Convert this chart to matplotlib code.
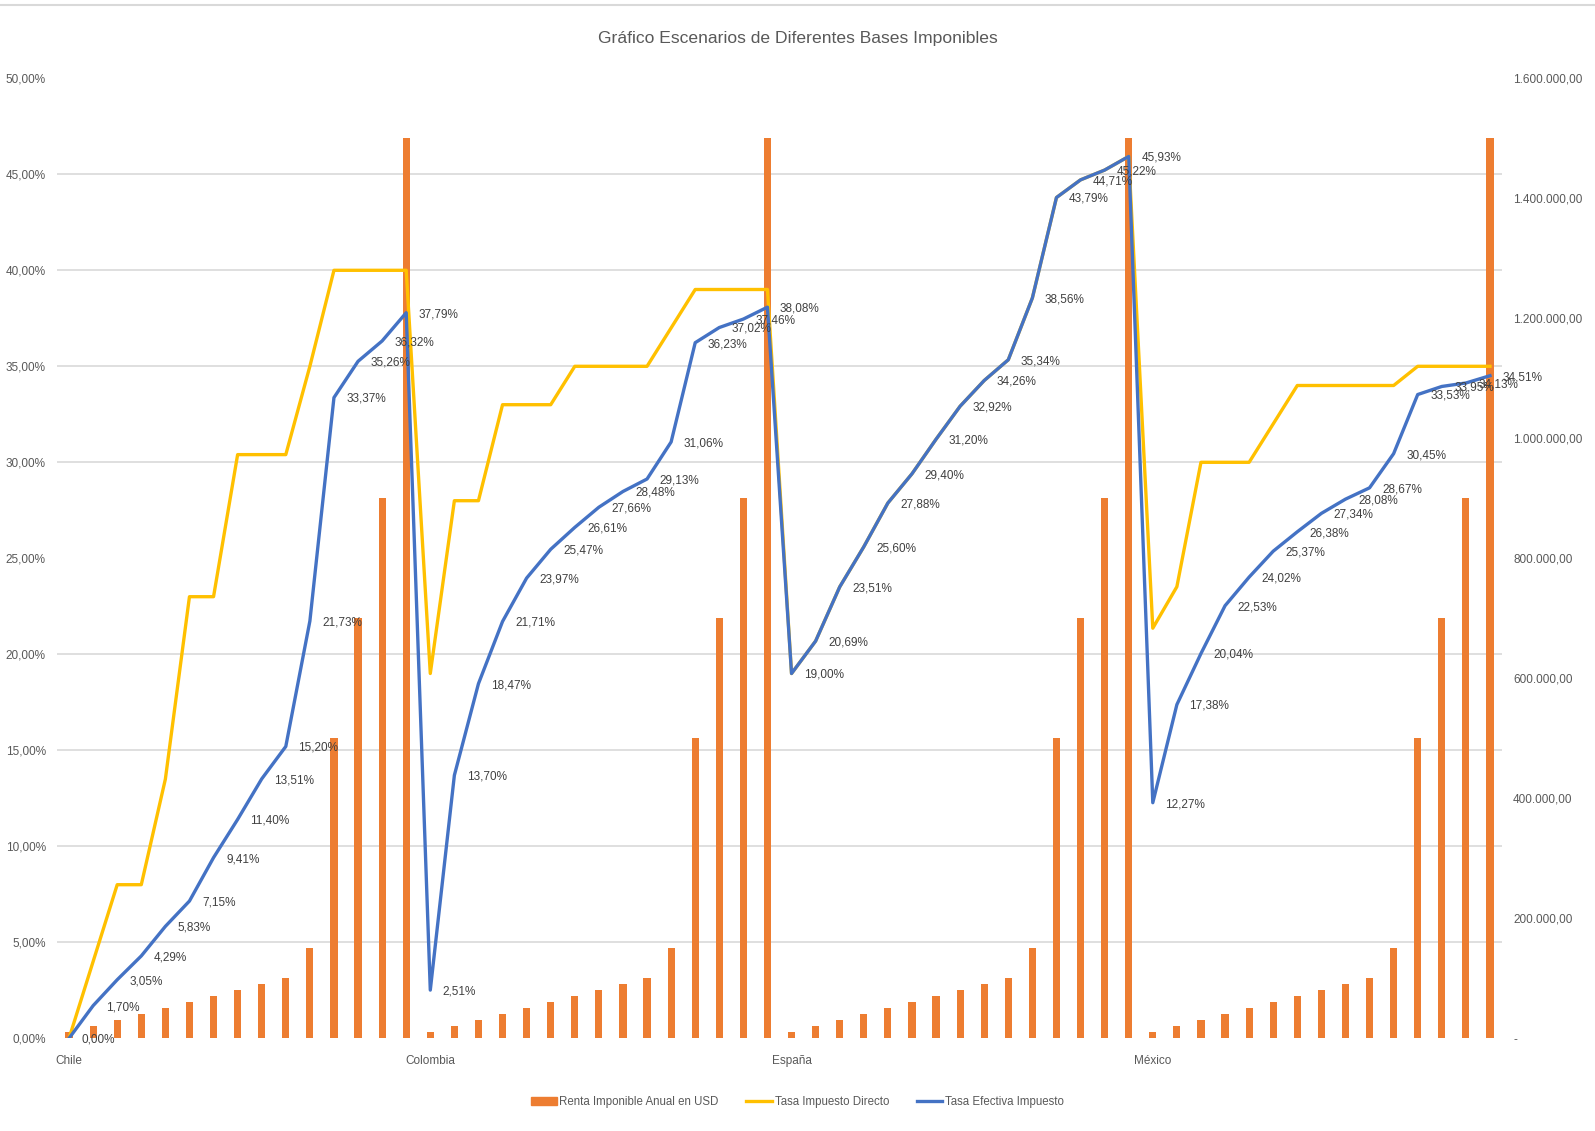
import matplotlib
matplotlib.use("Agg")
import matplotlib.pyplot as plt
from matplotlib.ticker import FuncFormatter, MultipleLocator, FixedLocator
from matplotlib.lines import Line2D
from matplotlib.patches import Patch
import numpy as np

plt.rcParams['font.family'] = ['Liberation Sans Narrow', 'Liberation Sans', 'DejaVu Sans']

# ---- data ----
countries = ["Chile", "Colombia", "España", "México"]
points_per_country = 15

renta_usd = [10000, 20000, 30000, 40000, 50000, 60000, 70000, 80000, 90000,
             100000, 150000, 500000, 700000, 900000, 1500000] * 4

tasa_directa_chile = [0, 4, 8, 8, 13.5, 23, 23, 30.4, 30.4, 30.4, 35, 40, 40, 40, 40]
tasa_directa_colombia = [19, 28, 28, 33, 33, 33, 35, 35, 35, 35, 37, 39, 39, 39, 39]
tasa_directa_espana = [19.00, 20.69, 23.51, 25.60, 27.88, 29.40, 31.20, 32.92,
                       34.26, 35.34, 38.56, 43.79, 44.71, 45.22, 45.93]
tasa_directa_mexico = [21.36, 23.52, 30, 30, 30, 32, 34, 34, 34, 34, 34, 35, 35, 35, 35]

tasa_efectiva_chile = [0.00, 1.70, 3.05, 4.29, 5.83, 7.15, 9.41, 11.40, 13.51,
                       15.20, 21.73, 33.37, 35.26, 36.32, 37.79]
tasa_efectiva_colombia = [2.51, 13.70, 18.47, 21.71, 23.97, 25.47, 26.61, 27.66,
                          28.48, 29.13, 31.06, 36.23, 37.02, 37.46, 38.08]
tasa_efectiva_espana = [19.00, 20.69, 23.51, 25.60, 27.88, 29.40, 31.20, 32.92,
                        34.26, 35.34, 38.56, 43.79, 44.71, 45.22, 45.93]
tasa_efectiva_mexico = [12.27, 17.38, 20.04, 22.53, 24.02, 25.37, 26.38, 27.34,
                        28.08, 28.67, 30.45, 33.53, 33.95, 34.13, 34.51]

tasa_directa = (tasa_directa_chile + tasa_directa_colombia
                + tasa_directa_espana + tasa_directa_mexico)
tasa_efectiva = (tasa_efectiva_chile + tasa_efectiva_colombia
                 + tasa_efectiva_espana + tasa_efectiva_mexico)

# ---- style ----
ORANGE = "#ED7D31"
YELLOW = "#FFC000"
BLUE = "#4472C4"
GRID = "#D9D9D9"
TEXT = "#595959"
FS = 8.5

W, H = 1595, 1131
fig = plt.figure(figsize=(W / 100, H / 100), dpi=100)
fig.patch.set_facecolor("white")

left, right, top, bottom = 57, 1502, 78.3, 1038.3
ax = fig.add_axes([left / W, 1 - bottom / H, (right - left) / W, (bottom - top) / H])

x = np.arange(len(renta_usd))

# bars on the USD axis (right side)
ax.bar(x, renta_usd, width=0.3, color=ORANGE, zorder=2)
ax.set_ylim(0, 1600000)
ax.set_xlim(-0.5, len(x) - 0.5)


def usd_fmt(v, pos):
    if abs(v) < 1e-6:
        return "-"
    s = f"{v:,.2f}"
    return s.replace(",", "X").replace(".", ",").replace("X", ".")


# percentage axis (left side) with the two rate lines
axp = ax.twinx()

ax.yaxis.tick_right()
ax.yaxis.set_label_position("right")
ax.yaxis.set_major_locator(MultipleLocator(200000))
ax.yaxis.set_major_formatter(FuncFormatter(usd_fmt))
# horizontal gridlines every 5 % of the percentage scale
ax.yaxis.set_minor_locator(MultipleLocator(160000))
ax.grid(which="minor", axis="y", color=GRID, linewidth=1.2, zorder=0)
ax.set_axisbelow(True)
ax.tick_params(axis="y", which="both", length=0, pad=8, labelsize=FS, labelcolor=TEXT)

cat_pos = [i * points_per_country for i in range(len(countries))]
ax.xaxis.set_major_locator(FixedLocator(cat_pos))
ax.set_xticklabels(countries)
ax.tick_params(axis="x", length=0, pad=12, labelsize=FS, labelcolor=TEXT)
for s in ax.spines.values():
    s.set_visible(False)

axp.yaxis.tick_left()
axp.yaxis.set_label_position("left")
axp.set_ylim(0, 50)
axp.yaxis.set_major_locator(MultipleLocator(5))
axp.yaxis.set_major_formatter(FuncFormatter(lambda v, p: f"{v:.2f}%".replace(".", ",")))
axp.tick_params(axis="y", length=0, pad=8, labelsize=FS, labelcolor=TEXT)
for s in axp.spines.values():
    s.set_visible(False)

axp.plot(x, tasa_directa, color=YELLOW, linewidth=2.4, solid_joinstyle="round", zorder=3)
axp.plot(x, tasa_efectiva, color=BLUE, linewidth=2.4, solid_joinstyle="round", zorder=4)

for xi, v in zip(x, tasa_efectiva):
    axp.annotate(f"{v:.2f}%".replace(".", ","), (xi, v), xytext=(9, -1),
                 textcoords="offset points", ha="left", va="center",
                 fontsize=FS, color="#404040", zorder=5)

# title
fig.text(0.5, 1 - 38.7 / H, "Gráfico Escenarios de Diferentes Bases Imponibles",
         ha="center", va="center", fontsize=12.6, color=TEXT)

# thin border line along the top edge
fig.add_artist(Line2D([0, 1], [1 - 5 / H, 1 - 5 / H], transform=fig.transFigure,
                      color=GRID, linewidth=1.5))

# legend
handles = [Patch(facecolor=ORANGE, edgecolor=ORANGE),
           Line2D([0], [0], color=YELLOW, linewidth=2.4),
           Line2D([0], [0], color=BLUE, linewidth=2.4)]
labels = ["Renta Imponible Anual en USD", "Tasa Impuesto Directo", "Tasa Efectiva Impuesto"]
fig.legend(handles, labels, loc="center", bbox_to_anchor=(0.5, 1 - 1101.6 / H),
           ncol=3, frameon=False, fontsize=8.3, labelcolor=TEXT,
           handlelength=2.2, handleheight=0.7, handletextpad=0.25, columnspacing=2.4)

fig.savefig("out.png", dpi=100, facecolor="white")
